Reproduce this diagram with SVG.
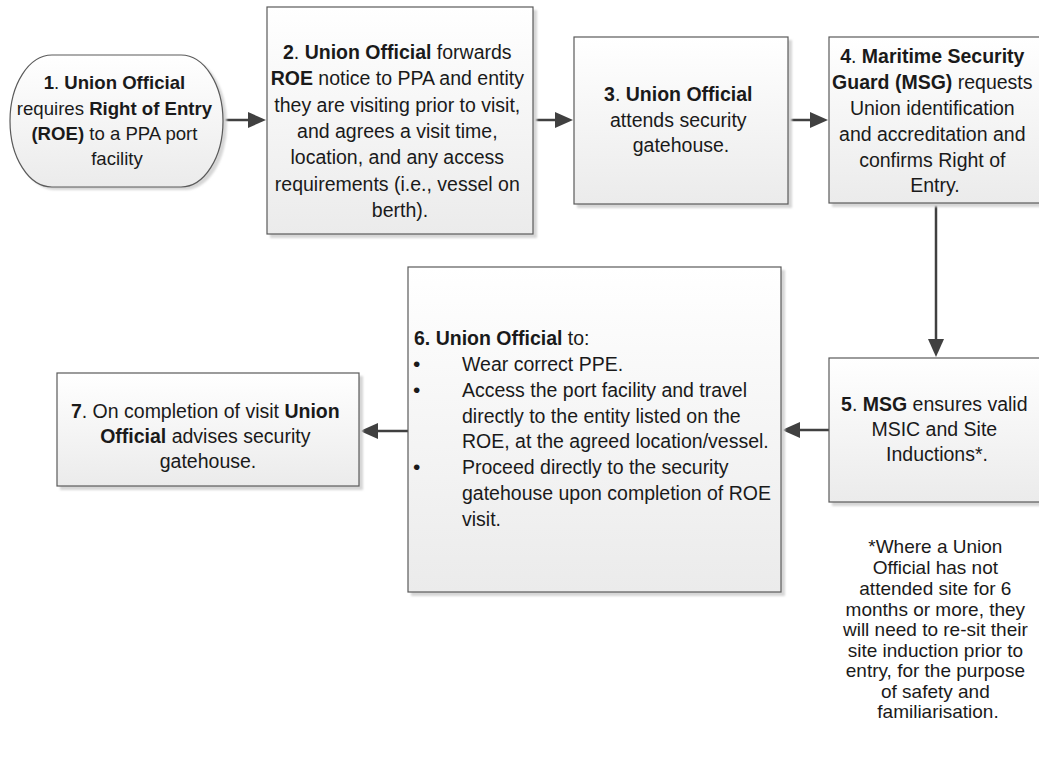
<svg xmlns="http://www.w3.org/2000/svg" width="1039" height="776" viewBox="0 0 1039 776">
  <style>
    .box { fill: url(#boxFill); stroke: #5a5a5a; stroke-width: 1.2; }
    .shadow { fill: #d6d6d6; filter: url(#soft); }
    .t { font-family: "Liberation Sans", Arial, sans-serif; font-size: 19.5px; fill: #1a1a1a; }
    .c { text-anchor: middle; }
    .b { font-weight: bold; }
    .dot { font-size: 21px; }
    .note { font-family: "Liberation Sans", Arial, sans-serif; font-size: 19px; fill: #1a1a1a; text-anchor: middle; }
    .conn { stroke: #404040; stroke-width: 2.5; fill: none; marker-end: url(#arrow); }
  </style>
  <defs>
    <linearGradient id="boxFill" x1="0" y1="0" x2="0" y2="1">
      <stop offset="0" stop-color="#ffffff"/>
      <stop offset="1" stop-color="#ebebeb"/>
    </linearGradient>
    <filter id="soft" x="-5%" y="-5%" width="110%" height="110%">
      <feGaussianBlur stdDeviation="1"/>
    </filter>
    <marker id="arrow" markerUnits="userSpaceOnUse" markerWidth="19" markerHeight="17" refX="9" refY="8.5" orient="auto">
      <path d="M0,0.5 L18,8.5 L0,16.5 z" fill="#404040"/>
    </marker>
  </defs>

  <rect width="1039" height="776" fill="#ffffff"/>

  <!-- connectors -->
  <g id="connectors">
    <line class="conn" x1="223" y1="120" x2="257" y2="120"/>
    <line class="conn" x1="534" y1="120" x2="564" y2="120"/>
    <line class="conn" x1="788" y1="120" x2="819" y2="120"/>
    <line class="conn" x1="936" y1="203" x2="936" y2="348"/>
    <line class="conn" x1="829" y1="430" x2="791" y2="430"/>
    <line class="conn" x1="408" y1="431" x2="369" y2="431"/>
  </g>

  <!-- step 1: terminator -->
  <g id="node1">
    <rect class="shadow" x="13" y="58" width="214" height="132" rx="42" ry="66"/>
    <rect class="box" x="10" y="55" width="213" height="132" rx="42" ry="66"/>
    <text class="t c" style="font-size:18.6px">
      <tspan x="117" y="89"><tspan class="b">1</tspan>. <tspan class="b">Union Official</tspan></tspan>
      <tspan x="117" y="115">requires <tspan class="b">Right of Entry</tspan></tspan>
      <tspan x="117" y="140"><tspan class="b">(ROE)</tspan> to a PPA port</tspan>
      <tspan x="117" y="165">facility</tspan>
    </text>
  </g>

  <!-- step 2 -->
  <g id="node2">
    <rect class="shadow" x="270" y="10" width="267" height="228"/>
    <rect class="box" x="267" y="7" width="266" height="227"/>
    <text class="t c">
      <tspan x="400" y="59"><tspan class="b">2</tspan>. <tspan class="b">Union Official</tspan> forwards</tspan>
      <tspan x="400" y="85"><tspan class="b">ROE</tspan> notice to PPA and entity</tspan>
      <tspan x="400" y="112">they are visiting prior to visit,</tspan>
      <tspan x="400" y="138">and agrees a visit time,</tspan>
      <tspan x="400" y="164">location, and any access</tspan>
      <tspan x="400" y="191">requirements (i.e., vessel on</tspan>
      <tspan x="400" y="217">berth).</tspan>
    </text>
  </g>

  <!-- step 3 -->
  <g id="node3">
    <rect class="shadow" x="577" y="40" width="215" height="168"/>
    <rect class="box" x="574" y="37" width="214" height="167"/>
    <text class="t c">
      <tspan x="681" y="101"><tspan class="b">3</tspan>. <tspan class="b">Union Official</tspan></tspan>
      <tspan x="681" y="127">attends security</tspan>
      <tspan x="681" y="152">gatehouse.</tspan>
    </text>
  </g>

  <!-- step 4 -->
  <g id="node4">
    <rect class="shadow" x="832" y="40" width="216" height="167"/>
    <rect class="box" x="829" y="37" width="216" height="166"/>
    <text class="t c">
      <tspan x="935" y="63"><tspan class="b">4</tspan>. <tspan class="b">Maritime Security</tspan></tspan>
      <tspan x="935" y="89"><tspan class="b">Guard (MSG)</tspan> requests</tspan>
      <tspan x="935" y="115">Union identification</tspan>
      <tspan x="935" y="141">and accreditation and</tspan>
      <tspan x="935" y="167">confirms Right of</tspan>
      <tspan x="935" y="192">Entry.</tspan>
    </text>
  </g>

  <!-- step 5 -->
  <g id="node5">
    <rect class="shadow" x="832" y="361" width="216" height="145"/>
    <rect class="box" x="829" y="358" width="216" height="144"/>
    <text class="t c">
      <tspan x="937" y="411"><tspan class="b">5</tspan>. <tspan class="b">MSG</tspan> ensures valid</tspan>
      <tspan x="937" y="436">MSIC and Site</tspan>
      <tspan x="937" y="461">Inductions*.</tspan>
    </text>
  </g>

  <!-- step 6 -->
  <g id="node6">
    <rect class="shadow" x="411" y="270" width="374" height="326"/>
    <rect class="box" x="408" y="267" width="373" height="325"/>
    <text class="t">
      <tspan x="414" y="345"><tspan class="b">6. Union Official</tspan> to:</tspan>
      <tspan class="dot" x="413" y="371">•</tspan>
      <tspan x="462" y="371">Wear correct PPE.</tspan>
      <tspan class="dot" x="413" y="397">•</tspan>
      <tspan x="462" y="397">Access the port facility and travel</tspan>
      <tspan x="462" y="423">directly to the entity listed on the</tspan>
      <tspan x="462" y="448">ROE, at the agreed location/vessel.</tspan>
      <tspan class="dot" x="413" y="474">•</tspan>
      <tspan x="462" y="474">Proceed directly to the security</tspan>
      <tspan x="462" y="500">gatehouse upon completion of ROE</tspan>
      <tspan x="462" y="526">visit.</tspan>
    </text>
  </g>

  <!-- step 7 -->
  <g id="node7">
    <rect class="shadow" x="60" y="376" width="303" height="114"/>
    <rect class="box" x="57" y="373" width="302" height="113"/>
    <text class="t c">
      <tspan x="208" y="418"><tspan class="b">7</tspan>. On completion of visit <tspan class="b">Union</tspan></tspan>
      <tspan x="208" y="443"><tspan class="b">Official</tspan> advises security</tspan>
      <tspan x="208" y="468">gatehouse.</tspan>
    </text>
  </g>

  <!-- footnote -->
  <g id="footnote">
    <text class="note">
      <tspan x="938" y="553">*Where a Union</tspan>
      <tspan x="938" y="574">Official has not</tspan>
      <tspan x="938" y="595">attended site for 6</tspan>
      <tspan x="938" y="616">months or more, they</tspan>
      <tspan x="938" y="636">will need to re-sit their</tspan>
      <tspan x="938" y="657">site induction prior to</tspan>
      <tspan x="938" y="677">entry, for the purpose</tspan>
      <tspan x="938" y="698">of safety and</tspan>
      <tspan x="938" y="718">familiarisation.</tspan>
    </text>
  </g>
</svg>
